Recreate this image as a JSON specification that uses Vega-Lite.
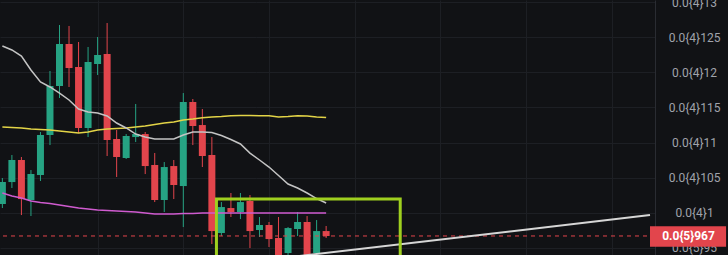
{
  "$schema": "https://vega.github.io/schema/vega-lite/v6.json",
  "width": 655,
  "height": 255,
  "autosize": {"type": "none"},
  "padding": {"left": 0, "top": 0, "right": 73, "bottom": 0},
  "background": "#111215",
  "config": {"view": {"stroke": null}, "font": "Roboto"},
  "datasets": {
    "candles": [
      {"k": 0, "o": 10.125e-6, "h": 10.495e-6, "l": 10.068e-6, "c": 10.438e-6},
      {"k": 1, "o": 10.438e-6, "h": 10.823e-6, "l": 10.353e-6, "c": 10.752e-6},
      {"k": 2, "o": 10.752e-6, "h": 10.795e-6, "l": 9.968e-6, "c": 10.196e-6},
      {"k": 3, "o": 10.182e-6, "h": 10.609e-6, "l": 9.954e-6, "c": 10.552e-6},
      {"k": 4, "o": 10.538e-6, "h": 11.151e-6, "l": 10.453e-6, "c": 11.108e-6},
      {"k": 5, "o": 11.108e-6, "h": 12.020e-6, "l": 10.965e-6, "c": 11.806e-6},
      {"k": 6, "o": 11.806e-6, "h": 12.675e-6, "l": 11.635e-6, "c": 12.404e-6},
      {"k": 7, "o": 12.404e-6, "h": 12.661e-6, "l": 11.792e-6, "c": 12.062e-6},
      {"k": 8, "o": 12.077e-6, "h": 12.433e-6, "l": 11.136e-6, "c": 11.208e-6},
      {"k": 9, "o": 11.208e-6, "h": 12.362e-6, "l": 11.079e-6, "c": 12.148e-6},
      {"k": 10, "o": 12.119e-6, "h": 12.504e-6, "l": 11.963e-6, "c": 12.248e-6},
      {"k": 11, "o": 12.262e-6, "h": 12.703e-6, "l": 10.809e-6, "c": 11.037e-6},
      {"k": 12, "o": 11.051e-6, "h": 11.179e-6, "l": 10.510e-6, "c": 10.795e-6},
      {"k": 13, "o": 10.780e-6, "h": 11.122e-6, "l": 10.766e-6, "c": 11.094e-6},
      {"k": 14, "o": 11.079e-6, "h": 11.550e-6, "l": 11.008e-6, "c": 11.122e-6},
      {"k": 15, "o": 11.122e-6, "h": 11.151e-6, "l": 10.552e-6, "c": 10.666e-6},
      {"k": 16, "o": 10.681e-6, "h": 10.852e-6, "l": 10.153e-6, "c": 10.182e-6},
      {"k": 17, "o": 10.182e-6, "h": 10.723e-6, "l": 10.011e-6, "c": 10.652e-6},
      {"k": 18, "o": 10.666e-6, "h": 10.752e-6, "l": 10.196e-6, "c": 10.396e-6},
      {"k": 19, "o": 10.381e-6, "h": 11.706e-6, "l": 9.797e-6, "c": 11.578e-6},
      {"k": 20, "o": 11.578e-6, "h": 11.621e-6, "l": 10.965e-6, "c": 11.236e-6},
      {"k": 21, "o": 11.250e-6, "h": 11.478e-6, "l": 10.652e-6, "c": 10.809e-6},
      {"k": 22, "o": 10.823e-6, "h": 11.079e-6, "l": 9.555e-6, "c": 9.740e-6},
      {"k": 23, "o": 9.712e-6, "h": 10.153e-6, "l": 9.669e-6, "c": 10.082e-6},
      {"k": 24, "o": 10.068e-6, "h": 10.282e-6, "l": 9.940e-6, "c": 10.011e-6},
      {"k": 25, "o": 10.011e-6, "h": 10.282e-6, "l": 9.911e-6, "c": 10.153e-6},
      {"k": 26, "o": 10.168e-6, "h": 10.253e-6, "l": 9.498e-6, "c": 9.740e-6},
      {"k": 27, "o": 9.755e-6, "h": 9.940e-6, "l": 9.655e-6, "c": 9.826e-6},
      {"k": 28, "o": 9.826e-6, "h": 9.869e-6, "l": 9.513e-6, "c": 9.626e-6},
      {"k": 29, "o": 9.641e-6, "h": 9.940e-6, "l": 9.299e-6, "c": 9.370e-6},
      {"k": 30, "o": 9.427e-6, "h": 9.797e-6, "l": 9.356e-6, "c": 9.783e-6},
      {"k": 31, "o": 9.769e-6, "h": 10.011e-6, "l": 9.669e-6, "c": 9.869e-6},
      {"k": 32, "o": 9.869e-6, "h": 9.954e-6, "l": 9.299e-6, "c": 9.370e-6},
      {"k": 33, "o": 9.427e-6, "h": 9.897e-6, "l": 9.356e-6, "c": 9.740e-6},
      {"k": 34, "o": 9.740e-6, "h": 9.812e-6, "l": 9.641e-6, "c": 9.670e-6}
    ],
    "averages": [
      {"k": 0, "fast": 12.376e-6, "mid": 11.222e-6, "slow": 10.282e-6},
      {"k": 1, "fast": 12.319e-6, "mid": 11.215e-6, "slow": 10.239e-6},
      {"k": 2, "fast": 12.233e-6, "mid": 11.208e-6, "slow": 10.211e-6},
      {"k": 3, "fast": 12.034e-6, "mid": 11.194e-6, "slow": 10.168e-6},
      {"k": 4, "fast": 11.863e-6, "mid": 11.187e-6, "slow": 10.146e-6},
      {"k": 5, "fast": 11.792e-6, "mid": 11.179e-6, "slow": 10.132e-6},
      {"k": 6, "fast": 11.706e-6, "mid": 11.165e-6, "slow": 10.111e-6},
      {"k": 7, "fast": 11.607e-6, "mid": 11.151e-6, "slow": 10.089e-6},
      {"k": 8, "fast": 11.478e-6, "mid": 11.136e-6, "slow": 10.068e-6},
      {"k": 9, "fast": 11.436e-6, "mid": 11.151e-6, "slow": 10.054e-6},
      {"k": 10, "fast": 11.421e-6, "mid": 11.179e-6, "slow": 10.040e-6},
      {"k": 11, "fast": 11.379e-6, "mid": 11.194e-6, "slow": 10.032e-6},
      {"k": 12, "fast": 11.279e-6, "mid": 11.201e-6, "slow": 10.025e-6},
      {"k": 13, "fast": 11.208e-6, "mid": 11.208e-6, "slow": 10.018e-6},
      {"k": 14, "fast": 11.122e-6, "mid": 11.222e-6, "slow": 10.011e-6},
      {"k": 15, "fast": 11.079e-6, "mid": 11.236e-6, "slow": 9.997e-6},
      {"k": 16, "fast": 11.051e-6, "mid": 11.258e-6, "slow": 9.983e-6},
      {"k": 17, "fast": 11.051e-6, "mid": 11.279e-6, "slow": 9.983e-6},
      {"k": 18, "fast": 11.051e-6, "mid": 11.293e-6, "slow": 9.983e-6},
      {"k": 19, "fast": 11.108e-6, "mid": 11.322e-6, "slow": 9.990e-6},
      {"k": 20, "fast": 11.151e-6, "mid": 11.336e-6, "slow": 9.990e-6},
      {"k": 21, "fast": 11.151e-6, "mid": 11.354e-6, "slow": 9.997e-6},
      {"k": 22, "fast": 11.144e-6, "mid": 11.364e-6, "slow": 9.997e-6},
      {"k": 23, "fast": 11.101e-6, "mid": 11.371e-6, "slow": 9.997e-6},
      {"k": 24, "fast": 11.044e-6, "mid": 11.383e-6, "slow": 9.997e-6},
      {"k": 25, "fast": 10.980e-6, "mid": 11.386e-6, "slow": 9.997e-6},
      {"k": 26, "fast": 10.851e-6, "mid": 11.386e-6, "slow": 9.997e-6},
      {"k": 27, "fast": 10.752e-6, "mid": 11.383e-6, "slow": 9.997e-6},
      {"k": 28, "fast": 10.652e-6, "mid": 11.383e-6, "slow": 9.997e-6},
      {"k": 29, "fast": 10.531e-6, "mid": 11.364e-6, "slow": 9.997e-6},
      {"k": 30, "fast": 10.410e-6, "mid": 11.371e-6, "slow": 9.997e-6},
      {"k": 31, "fast": 10.353e-6, "mid": 11.383e-6, "slow": 9.997e-6},
      {"k": 32, "fast": 10.282e-6, "mid": 11.379e-6, "slow": 9.997e-6},
      {"k": 33, "fast": 10.203e-6, "mid": 11.364e-6, "slow": 9.997e-6},
      {"k": 34, "fast": 10.139e-6, "mid": 11.357e-6, "slow": 9.997e-6}
    ],
    "trend": [
      {"k": 29, "p": 9.35e-6},
      {"k": 68.01, "p": 9.968e-6}
    ],
    "zone": [
      {"k1": 22.48, "k2": 41.78, "top": 10.196e-6, "bottom": 9.3e-6}
    ],
    "last": [
      {"p": 9.67e-6, "label": "0.0{5}967", "k1": 68.01, "k2": 76, "kc": 72.05, "lo": 9.515e-6, "hi": 9.81e-6}
    ]
  },
  "layer": [
    {
      "data": {"name": "candles"},
      "mark": {"type": "rule", "strokeWidth": 1, "clip": true},
      "encoding": {
        "x": {
          "field": "k",
          "type": "quantitative",
          "scale": {"domain": [0.276, 68.01], "nice": false, "zero": false},
          "axis": {
            "values": [10, 19, 28, 37, 46, 55, 64],
            "tickCount": 20,
            "grid": true,
            "gridColor": "#1d1f24",
            "gridWidth": 1,
            "labels": false,
            "ticks": false,
            "domain": false,
            "title": null
          }
        },
        "y": {
          "field": "l",
          "type": "quantitative",
          "scale": {"domain": [9.399e-6, 13.031e-6], "nice": false, "zero": false},
          "axis": {
            "orient": "right",
            "values": [9.5e-6, 10e-6, 10.5e-6, 11e-6, 11.5e-6, 12e-6, 12.5e-6, 13e-6],
            "tickCount": 20,
            "labelExpr": "datum.value >= 0.00000999 ? '0.0{4}' + replace(format(datum.value * 1e5, '.4~f'), '.', '') : '0.0{5}' + replace(format(datum.value * 1e6, '.4~f'), '.', '')",
            "labelOverlap": false,
            "labelBound": false,
            "labelFlush": false,
            "grid": true,
            "gridColor": "#1d1f24",
            "gridWidth": 1,
            "ticks": false,
            "tickSize": 0,
            "domain": true,
            "domainColor": "#2a2c32",
            "labelAlign": "center",
            "labelBaseline": "middle",
            "labelPadding": 39,
            "labelColor": "#a0a3ab",
            "labelFont": "Roboto",
            "labelFontSize": 12,
            "title": null
          }
        },
        "y2": {"field": "h"},
        "color": {
          "condition": {"test": "datum.c >= datum.o", "value": "#26a383"},
          "value": "#e2454c"
        }
      }
    },
    {
      "data": {"name": "candles"},
      "mark": {"type": "bar", "size": 7, "clip": true},
      "encoding": {
        "x": {"field": "k", "type": "quantitative"},
        "y": {"field": "o", "type": "quantitative"},
        "y2": {"field": "c"},
        "color": {
          "condition": {"test": "datum.c >= datum.o", "value": "#26a383"},
          "value": "#e2454c"
        }
      }
    },
    {
      "data": {"name": "averages"},
      "mark": {"type": "line", "color": "#cf5bcf", "strokeWidth": 1.5, "clip": true},
      "encoding": {
        "x": {"field": "k", "type": "quantitative"},
        "y": {"field": "slow", "type": "quantitative"}
      }
    },
    {
      "data": {"name": "averages"},
      "mark": {"type": "line", "color": "#e3d447", "strokeWidth": 1.5, "clip": true},
      "encoding": {
        "x": {"field": "k", "type": "quantitative"},
        "y": {"field": "mid", "type": "quantitative"}
      }
    },
    {
      "data": {"name": "averages"},
      "mark": {"type": "line", "color": "#c4c4c4", "strokeWidth": 1.5, "clip": true},
      "encoding": {
        "x": {"field": "k", "type": "quantitative"},
        "y": {"field": "fast", "type": "quantitative"}
      }
    },
    {
      "data": {"name": "last"},
      "mark": {"type": "rule", "color": "#e2454c", "strokeWidth": 1, "strokeDash": [4, 4], "clip": true},
      "encoding": {
        "y": {"field": "p", "type": "quantitative"}
      }
    },
    {
      "data": {"name": "trend"},
      "mark": {"type": "line", "color": "#d6d6d6", "strokeWidth": 2, "clip": true},
      "encoding": {
        "x": {"field": "k", "type": "quantitative"},
        "y": {"field": "p", "type": "quantitative"}
      }
    },
    {
      "data": {"name": "zone"},
      "mark": {"type": "rect", "fill": null, "fillOpacity": 0, "stroke": "#9fcf1f", "strokeWidth": 3, "clip": true},
      "encoding": {
        "x": {"field": "k1", "type": "quantitative"},
        "x2": {"field": "k2"},
        "y": {"field": "top", "type": "quantitative"},
        "y2": {"field": "bottom"}
      }
    },
    {
      "data": {"name": "last"},
      "mark": {"type": "rect", "color": "#e2454c", "clip": false},
      "encoding": {
        "x": {"field": "k1", "type": "quantitative"},
        "x2": {"field": "k2"},
        "y": {"field": "lo", "type": "quantitative"},
        "y2": {"field": "hi"}
      }
    },
    {
      "data": {"name": "last"},
      "mark": {"type": "text", "color": "#ffffff", "font": "Roboto", "fontSize": 12, "fontWeight": "bold", "align": "center", "baseline": "middle", "clip": false},
      "encoding": {
        "x": {"field": "kc", "type": "quantitative"},
        "y": {"field": "p", "type": "quantitative"},
        "text": {"field": "label"}
      }
    }
  ]
}
